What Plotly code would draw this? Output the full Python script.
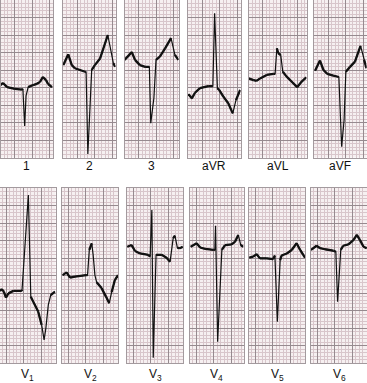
import plotly.graph_objects as go

# Lead names
leads = ["1", "2", "3", "aVR", "aVL", "aVF", "V1", "V2", "V3", "V4", "V5", "V6"]
label_text = ["1", "2", "3", "aVR", "aVL", "aVF",
              "V<sub>1</sub>", "V<sub>2</sub>", "V<sub>3</sub>",
              "V<sub>4</sub>", "V<sub>5</sub>", "V<sub>6</sub>"]

# Traces: time in mm from strip start (25 mm/s), amplitude in mm from strip bottom (10 mm/mV)
t_1 = [0, 0.7, 1.9, 4.1, 6.1, 6.4, 6.9, 7.3, 7.9, 9.3, 10.4, 11.3, 12.1, 13.0, 13.6, 14.7]
v_1 = [20.7, 21.3, 20.1, 19.6, 19.4, 19.6, 9.0, 17.6, 20.1, 20.7, 21.0, 21.6, 23.0, 22.1, 21.0, 20.1]

t_2 = [0.1, 1.5, 2.5, 3.4, 6.3, 6.6, 7.1, 8.2, 9.1, 10.6, 12.8, 14.4, 14.9]
v_2 = [26.4, 29.5, 26.4, 25.5, 24.5, 24.4, 1.0, 25.0, 26.4, 28.3, 35.0, 26.9, 25.9]

t_3 = [0, 2.1, 3.0, 4.4, 5.9, 7.1, 7.5, 8.4, 9.0, 10.1, 11.6, 13.3, 14.4, 15.4]
v_3 = [27.9, 30.1, 27.9, 26.4, 25.9, 25.9, 9.8, 17.0, 27.9, 28.8, 31.2, 34.1, 29.3, 27.9]

t_avr = [0.1, 1.1, 2.0, 3.4, 5.8, 7.1, 7.6, 8.4, 8.9, 10.1, 11.5, 12.8, 13.7, 14.9]
v_avr = [18.1, 16.9, 18.5, 19.8, 20.4, 20.4, 41.2, 19.8, 19.3, 17.4, 15.5, 12.6, 16.4, 19.3]

t_avl = [0, 1.4, 2.3, 3.3, 5.2, 7.1, 7.6, 8.1, 8.5, 9.2, 9.8, 10.9, 12.3, 13.9, 15.2, 16.5]
v_avl = [22.6, 22.1, 21.9, 22.6, 23.6, 23.9, 23.9, 31.2, 29.8, 29.3, 24.5, 23.1, 21.7, 20.1, 21.7, 22.9]

t_avf = [0.3, 1.7, 2.7, 3.8, 5.5, 7.1, 7.9, 8.6, 9.1, 10.3, 11.7, 13.3, 14.3, 15.0]
v_avf = [24.8, 27.7, 25.0, 23.9, 23.4, 23.0, 3.1, 10.7, 24.5, 25.9, 27.4, 31.9, 27.9, 25.5]

t_v1 = [0, 0.5, 1.1, 1.7, 2.4, 3.8, 6.2, 6.3, 8.1, 8.8, 9.5, 10.9, 11.9, 12.6, 13.1, 13.8, 14.5, 15.7]
v_v1 = [20.6, 21.1, 20.4, 18.7, 19.9, 20.6, 20.6, 20.9, 48.0, 18.9, 17.5, 14.7, 10.9, 6.6, 9.9, 16.6, 19.4, 20.4]

t_v2 = [0.2, 1.3, 2.3, 3.7, 6.9, 7.3, 7.8, 8.5, 8.9, 9.4, 9.9, 11.3, 12.6, 13.5, 14.2, 15.1, 16.0]
v_v2 = [25.1, 25.9, 24.4, 24.7, 25.1, 25.1, 32.3, 34.2, 30.9, 25.1, 23.1, 21.4, 18.9, 17.1, 20.3, 23.7, 25.1]

t_v3 = [0.1, 1.3, 2.3, 3.7, 6.1, 6.6, 7.1, 7.5, 8.3, 9.9, 11.3, 12.3, 13.2, 13.7, 14.4, 15.1, 15.9]
v_v3 = [33.2, 33.7, 32.0, 31.3, 30.9, 30.4, 43.7, 1.5, 30.9, 30.9, 30.1, 28.9, 35.7, 36.4, 32.9, 32.8, 33.2]

t_v4 = [0.2, 1.9, 2.9, 4.3, 6.7, 7.1, 7.3, 7.9, 9.1, 10.0, 11.9, 12.9, 13.8, 14.5, 15.2]
v_v4 = [33.2, 34.2, 33.0, 32.6, 32.3, 32.3, 39.2, 6.1, 32.3, 33.7, 33.9, 34.7, 36.6, 33.7, 33.2]

t_v5 = [0.1, 1.2, 2.2, 3.1, 5.1, 6.9, 7.4, 8.1, 8.9, 9.3, 10.8, 12.2, 13.6, 14.6, 16.0]
v_v5 = [30.1, 30.4, 31.1, 29.9, 29.9, 29.7, 30.7, 11.8, 29.4, 30.7, 31.3, 32.3, 34.2, 32.3, 30.1]

t_v6 = [0, 1.6, 2.6, 4.0, 6.4, 7.1, 7.6, 8.5, 9.2, 10.7, 12.1, 13.1, 14.0, 15.0, 15.9]
v_v6 = [32.3, 33.5, 32.8, 32.5, 32.1, 31.8, 17.5, 32.3, 33.5, 33.9, 35.1, 36.6, 35.1, 33.2, 32.8]

times = [t_1, t_2, t_3, t_avr, t_avl, t_avf, t_v1, t_v2, t_v3, t_v4, t_v5, t_v6]
volts = [v_1, v_2, v_3, v_avr, v_avl, v_avf, v_v1, v_v2, v_v3, v_v4, v_v5, v_v6]

# ---- layout geometry (pixels) ----
W, H = 367, 383
MM = 3.5  # pixels per small square
panels = [
    (0.5, 0, 52.5, 157.5), (63, 0, 52.5, 157.5), (124.5, 0, 54, 157.5),
    (188, 0, 52.5, 157.5), (248.5, 0, 58, 157.5), (314, 0, 52.5, 157.5),
    (0, 188, 55.5, 175), (62, 188, 56, 175), (127, 188, 56, 175),
    (190, 188, 53.5, 175), (249, 188, 56, 175), (311, 188, 56, 175),
]

fig = go.Figure()
bg = "#f6f0f1"
minor_c = "#d8c6cb"
major_c = "#968a8f"


def slow_parts(t, v, limit=4.0):
    """Split a trace into the slow-moving segments (drawn heavier, like pen ink)."""
    xs, ys = [], []
    for k in range(len(t) - 1):
        dt = t[k + 1] - t[k]
        if dt > 0 and abs(v[k + 1] - v[k]) / dt < limit:
            xs += [t[k], t[k + 1], None]
            ys += [v[k], v[k + 1], None]
    return xs, ys


for i, (lead, (l, tp, w, h)) in enumerate(zip(leads, panels)):
    n = i + 1
    xa = "x" if n == 1 else f"x{n}"
    ya = "y" if n == 1 else f"y{n}"
    fig.add_trace(go.Scatter(x=times[i], y=volts[i], mode="lines", name=lead,
                             line=dict(color="#111111", width=1.2),
                             xaxis=xa, yaxis=ya, showlegend=False, hoverinfo="skip"))
    sx, sy = slow_parts(times[i], volts[i])
    fig.add_trace(go.Scatter(x=sx, y=sy, mode="lines", name=lead,
                             line=dict(color="#111111", width=2.3),
                             xaxis=xa, yaxis=ya, showlegend=False, hoverinfo="skip"))
    x0 = 4 if tp == 0 else 1.8
    common = dict(showticklabels=False, ticks="", zeroline=False, showline=True,
                  mirror=True, linecolor="#a39a9e", linewidth=1,
                  showgrid=True, gridcolor=major_c, gridwidth=1, dtick=5, fixedrange=True)
    xkey = "xaxis" if n == 1 else f"xaxis{n}"
    ykey = "yaxis" if n == 1 else f"yaxis{n}"
    fig.update_layout(**{
        xkey: dict(domain=[l / W, (l + w) / W], range=[0, w / MM], tick0=x0,
                   minor=dict(dtick=1, tick0=x0, showgrid=True, gridcolor=minor_c, gridwidth=1),
                   anchor=ya, **common),
        ykey: dict(domain=[1 - (tp + h) / H, 1 - tp / H], range=[0, h / MM], tick0=0,
                   minor=dict(dtick=1, tick0=0, showgrid=True, gridcolor=minor_c, gridwidth=1),
                   anchor=xa, **common),
    })
    fig.add_annotation(text=label_text[i], xref=f"{xa} domain", x=0.5,
                       yref="paper", y=1 - ((166 if tp == 0 else 375) / H),
                       showarrow=False, yanchor="middle", xanchor="center",
                       font=dict(family="Liberation Sans, Arial", size=12, color="#111111"))

fig.update_layout(width=W, height=H, margin=dict(l=0, r=0, t=0, b=0),
                  paper_bgcolor="white", plot_bgcolor=bg, autosize=False)

fig.write_html("out.html", config={"displayModeBar": False})
